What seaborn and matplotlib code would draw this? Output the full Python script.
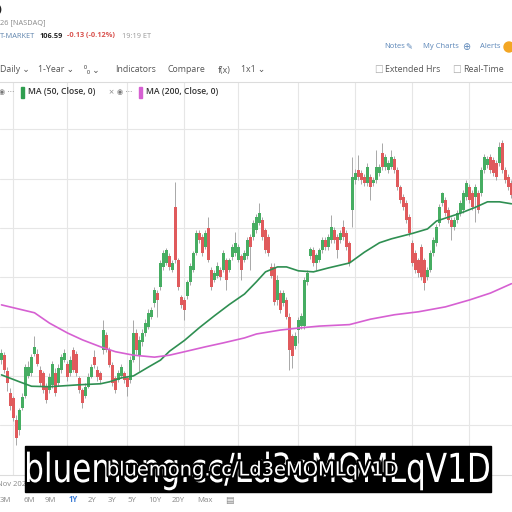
import numpy as np
import pandas as pd
import matplotlib
matplotlib.use("Agg")
import matplotlib.pyplot as plt
import matplotlib.patheffects as pe
from matplotlib.patches import Rectangle, PathPatch
from matplotlib.textpath import TextPath
from matplotlib.transforms import Affine2D
from matplotlib.font_manager import FontProperties
import seaborn as sns

# ---- daily candles ----
opens = [73.2, 74.2, 71.0, 66.5, 65.5, 61.0, 59.0, 63.5, 66.0, 70.0,
         70.5, 74.5, 74.5, 71.2, 70.5, 68.0, 67.1, 68.2, 70.5, 68.5,
         71.2, 73.2, 72.5, 70.5, 75.3, 74.5, 69.5, 67.1, 66.0, 67.8,
         69.8, 73.8, 71.2, 70.5, 75.3, 78.3, 75.3, 72.2, 69.5, 69.2,
         70.0, 70.5, 69.5, 69.2, 73.2, 78.7, 74.0, 76.8, 78.7, 80.0,
         82.0, 84.8, 86.8, 88.0, 92.1, 92.9, 94.3, 91.5, 104.3, 93.5,
         86.0, 85.4, 86.2, 89.1, 91.5, 94.9, 99.0, 98.2, 96.2, 100.0,
         91.5, 89.5, 90.3, 91.5, 91.5, 93.5, 91.5, 94.1, 94.9, 93.5,
         94.3, 93.5, 94.3, 98.2, 98.2, 99.6, 101.0, 101.6, 99.6, 98.2,
         92.1, 92.1, 85.4, 86.8, 84.8, 85.4, 82.0, 78.0, 76.1, 79.3,
         80.1, 80.1, 89.1, 94.3, 95.5, 92.9, 93.5, 95.5, 97.6, 96.2,
         97.6, 99.6, 98.2, 97.6, 100.2, 99.0, 96.9, 103.7, 109.7, 111.8,
         111.2, 110.4, 109.1, 110.4, 109.1, 109.7, 111.2, 115.2, 112.4, 111.8,
         112.4, 114.0, 111.8, 108.3, 106.3, 105.1, 102.2, 97.0, 94.9, 93.5,
         96.2, 93.5, 90.1, 91.5, 94.9, 97.0, 101.0, 105.1, 105.7, 103.7,
         101.6, 100.2, 101.6, 103.0, 103.7, 106.3, 108.3, 107.1, 106.3, 107.1,
         107.1, 111.8, 112.8, 114.4, 113.8, 113.2, 113.2, 117.2, 111.8, 110.4,
         109.1]
highs = [75.5, 74.8, 71.8, 67.5, 66.0, 62.0, 63.5, 66.5, 72.5, 73.0,
         74.5, 78.0, 75.5, 72.0, 71.0, 68.5, 70.5, 73.0, 71.5, 72.5,
         74.5, 75.5, 73.0, 74.0, 75.8, 75.0, 70.0, 67.5, 68.5, 70.5,
         72.5, 75.3, 72.0, 71.0, 81.3, 79.0, 75.8, 72.8, 70.0, 71.2,
         72.5, 71.0, 70.0, 74.0, 81.3, 79.5, 78.0, 79.5, 81.5, 83.5,
         84.0, 88.0, 87.5, 93.5, 95.5, 96.0, 95.0, 93.5, 109.3, 94.0,
         86.5, 86.0, 89.5, 92.8, 95.3, 99.6, 99.6, 98.8, 99.5, 102.2,
         92.0, 91.5, 93.0, 92.0, 95.5, 94.0, 94.0, 96.8, 99.2, 96.8,
         94.8, 95.5, 98.2, 98.8, 101.6, 102.8, 105.1, 102.2, 100.0, 98.8,
         92.8, 92.8, 90.5, 87.4, 87.4, 86.0, 82.8, 78.5, 78.8, 82.0,
         82.8, 90.1, 91.5, 96.2, 96.2, 95.0, 96.0, 98.2, 98.2, 98.8,
         102.6, 100.2, 98.8, 99.6, 101.6, 99.6, 97.4, 114.4, 112.0, 114.8,
         111.8, 111.0, 113.2, 111.0, 110.4, 115.8, 113.0, 117.2, 115.0, 113.8,
         115.8, 114.6, 112.4, 108.8, 106.8, 105.7, 102.8, 97.6, 95.5, 94.0,
         96.8, 94.0, 92.0, 95.5, 98.2, 100.8, 104.9, 107.3, 106.3, 104.3,
         102.2, 102.2, 103.6, 105.7, 107.7, 109.7, 109.0, 107.7, 108.9, 107.7,
         112.4, 115.0, 114.6, 115.0, 114.4, 113.8, 117.4, 117.8, 112.4, 111.0,
         109.7]
lows = [72.5, 70.5, 67.0, 63.0, 60.8, 56.0, 58.0, 63.0, 65.5, 69.5,
        70.0, 74.0, 72.0, 68.0, 66.5, 64.5, 66.5, 67.5, 66.0, 68.0,
        70.5, 72.8, 69.0, 70.0, 70.8, 70.0, 66.5, 63.5, 65.5, 67.5,
        69.5, 71.5, 69.0, 68.5, 74.5, 74.8, 71.8, 68.0, 66.5, 68.8,
        69.5, 68.5, 66.0, 68.5, 72.8, 74.5, 71.0, 76.0, 78.0, 79.5,
        81.5, 84.0, 82.0, 87.5, 91.5, 92.5, 91.5, 91.0, 92.8, 87.5,
        83.8, 81.3, 85.5, 88.5, 91.0, 94.5, 97.0, 94.3, 95.8, 93.0,
        87.4, 89.0, 89.8, 89.5, 91.0, 87.4, 91.0, 93.6, 94.3, 93.0,
        89.5, 93.0, 93.8, 91.5, 97.6, 99.0, 100.5, 97.6, 95.0, 94.3,
        89.8, 84.4, 84.4, 82.8, 84.2, 81.5, 71.2, 71.5, 75.5, 76.6,
        79.5, 79.5, 88.5, 93.8, 92.3, 91.5, 93.0, 95.0, 95.6, 95.6,
        97.0, 97.0, 93.9, 97.0, 97.6, 95.6, 92.3, 100.2, 109.0, 109.8,
        109.0, 108.5, 108.5, 105.7, 108.5, 109.2, 110.6, 111.8, 111.8, 111.2,
        112.0, 111.2, 107.7, 105.0, 103.7, 101.0, 98.4, 92.3, 90.8, 90.1,
        89.5, 87.4, 89.5, 91.0, 94.3, 96.4, 100.4, 104.5, 102.4, 101.0,
        97.6, 99.6, 101.0, 102.4, 103.1, 105.7, 105.1, 103.7, 101.2, 103.1,
        106.5, 111.2, 112.2, 111.2, 110.6, 109.8, 112.6, 111.2, 109.1, 107.7,
        106.0]
closes = [74.6, 71.2, 68.5, 63.8, 61.5, 57.5, 63.0, 65.8, 71.8, 71.8,
          73.8, 75.8, 72.5, 68.5, 67.1, 65.1, 69.8, 72.5, 66.5, 71.5,
          73.8, 74.6, 69.8, 73.2, 71.2, 70.5, 67.1, 64.5, 67.8, 69.8,
          71.8, 72.2, 69.8, 69.2, 79.3, 75.3, 72.2, 68.5, 67.1, 70.5,
          71.8, 69.2, 67.8, 73.2, 78.7, 75.3, 77.3, 78.7, 80.8, 82.8,
          83.4, 87.4, 85.4, 92.9, 94.9, 95.5, 92.1, 92.9, 93.5, 88.0,
          84.4, 83.4, 89.0, 92.3, 94.9, 99.0, 97.6, 94.9, 99.0, 93.5,
          88.0, 90.8, 92.3, 90.1, 94.9, 89.5, 93.5, 96.2, 96.9, 96.2,
          91.5, 94.9, 97.6, 96.2, 101.0, 102.2, 103.0, 98.2, 95.5, 94.9,
          90.3, 85.0, 89.5, 83.4, 86.8, 82.0, 75.3, 74.0, 78.1, 81.3,
          82.2, 89.5, 90.8, 95.7, 92.9, 94.5, 95.5, 97.6, 96.2, 98.2,
          100.2, 97.6, 95.5, 99.0, 98.2, 96.2, 92.9, 110.4, 111.2, 110.4,
          109.7, 109.1, 112.4, 108.3, 109.7, 112.4, 112.4, 112.4, 114.4, 113.2,
          114.4, 111.8, 108.3, 105.7, 104.3, 101.6, 99.0, 92.9, 91.5, 90.9,
          90.1, 88.8, 91.5, 94.9, 97.6, 100.2, 104.3, 107.1, 103.0, 101.6,
          100.2, 101.6, 103.0, 105.1, 107.1, 109.1, 105.7, 104.3, 108.3, 103.7,
          111.8, 114.4, 114.0, 111.8, 111.2, 110.4, 116.4, 111.8, 109.7, 108.3,
          106.6]

# moving averages (sampled along the curves)
ma50_days = [0, 6, 10, 16, 26, 33, 36, 40, 44, 49, 53, 56, 61, 66, 71, 76, 81,
             85, 88, 92, 95, 99, 104, 109, 116, 121, 126, 130, 137, 142, 145,
             148, 151, 153, 158, 162, 166, 170]
ma50_vals = [70.2, 68.8, 67.9, 67.8, 68.2, 68.4, 68.8, 69.6, 70.0, 71.8, 73.2,
             75.0, 77.2, 79.8, 82.2, 84.5, 86.6, 89.1, 91.1, 92.1, 92.1, 91.3,
             91.1, 91.9, 92.9, 95.1, 97.0, 97.8, 98.9, 99.8, 101.4, 102.0,
             102.6, 103.0, 104.2, 105.3, 105.3, 104.9]
ma200_days = [0, 11, 16, 22, 27, 33, 38, 44, 51, 56, 61, 68, 74, 81, 85, 93,
              99, 106, 116, 123, 131, 139, 148, 156, 163, 170]
ma200_vals = [84.4, 82.8, 80.7, 78.7, 77.3, 75.9, 74.9, 74.2, 73.8, 74.2, 74.9,
              75.9, 76.7, 77.7, 78.5, 79.3, 79.7, 80.1, 80.4, 81.5, 82.4, 83.0,
              84.0, 85.4, 86.8, 88.7]

month_days = [4, 22, 42, 61, 79, 99, 118, 137, 156]
month_labels = ["Nov 2024", "", "", "", "", "", "", "", ""]
price_grid = [60, 70, 80, 90, 100, 110, 120]

up_col = "#46ad62"
down_col = "#e05a5c"
wick_col = "#9a9a9a"

sns.set_theme(style="white")
plt.rcParams["font.family"] = ["Open Sans", "DejaVu Sans"]

df = pd.DataFrame({"o": opens, "h": highs, "l": lows, "c": closes})
df["day"] = np.arange(len(df))
df["up"] = df["c"] >= df["o"]

fig = plt.figure(figsize=(5.12, 5.12), dpi=100)
fig.patch.set_facecolor("white")
ax = fig.add_axes([0, 37 / 512, 1, 393 / 512])

# candles
ax.vlines(df["day"], df["l"], df["h"], color=wick_col, lw=0.6, zorder=2)
cols = np.where(df["up"], up_col, down_col)
ax.bar(df["day"], (df["c"] - df["o"]).abs().clip(lower=0.35),
       bottom=df[["o", "c"]].min(axis=1), width=0.68, color=cols,
       linewidth=0, zorder=3)

ma50 = pd.DataFrame({"day": ma50_days, "v": ma50_vals})
ma200 = pd.DataFrame({"day": ma200_days, "v": ma200_vals})
sns.lineplot(data=ma50, x="day", y="v", ax=ax, color="#2f8f52", lw=1.2, zorder=4)
sns.lineplot(data=ma200, x="day", y="v", ax=ax, color="#d660d2", lw=1.2, zorder=4)

ax.set_xlim(-0.5, 170.17)
ax.set_ylim(49.9, 129.6)
ax.set_xticks(month_days)
ax.set_xticklabels(month_labels, fontsize=5.5, color="#888888")
ax.set_yticks(price_grid)
ax.set_yticklabels([])
ax.tick_params(axis="x", length=0, pad=4)
ax.tick_params(axis="y", length=0)
ax.set_xlabel("")
ax.set_ylabel("")
ax.grid(True, color="#e6e6e6", lw=0.8)
ax.set_axisbelow(True)
for s in ["left", "right"]:
    ax.spines[s].set_visible(False)
for s in ["top", "bottom"]:
    ax.spines[s].set_color("#dcdcdc")
    ax.spines[s].set_linewidth(0.8)


def px(x, y):
    return x / 512, 1 - y / 512


# header
fig.text(*px(-2, 10), ")", fontsize=8, weight="bold", color="#222", va="center")
fig.text(*px(0, 23), "26 [NASDAQ]", fontsize=5.3, color="#888", va="center")
fig.text(*px(0, 36), "T-MARKET", fontsize=5.3, color="#5f84ad", va="center")
fig.text(*px(40, 36), "106.59", fontsize=5.3, color="#222", weight="bold", va="center")
fig.text(*px(67, 36), "-0.13 (-0.12%)", fontsize=5.3, color="#d9534f", weight="bold", va="center")
fig.text(*px(122, 36), "19:19 ET", fontsize=5.3, color="#999", va="center")

link = "#5b86b8"
fig.text(*px(384, 47), "Notes", fontsize=5.5, color=link, va="center")
fig.text(*px(405, 47), "\u270e", fontsize=6, color=link, va="center", family="DejaVu Sans")
fig.text(*px(423, 47), "My Charts", fontsize=5.5, color=link, va="center")
fig.text(*px(462, 47), "\u2295", fontsize=7, color=link, va="center", family="DejaVu Sans")
fig.text(*px(480, 47), "Alerts", fontsize=5.5, color=link, va="center")
fig.add_artist(plt.Circle(px(509, 47), 5 / 512, color="#f3a623", transform=fig.transFigure))

# toolbar
tb = "#555555"
for x, t in [(0, "Daily \u2304"), (38, "1-Year \u2304"), (84, "\u2070\u2080 \u2304"),
             (115, "Indicators"), (168, "Compare"), (218, "f(x)"), (241, "1x1 \u2304")]:
    fig.text(*px(x, 70), t, fontsize=6.3, color=tb, va="center",
             family=["Open Sans", "DejaVu Sans"])
fig.text(*px(374, 70), "\u2610", fontsize=7, color="#aaa", va="center", family="DejaVu Sans")
fig.text(*px(385, 70), "Extended Hrs", fontsize=6.3, color=tb, va="center")
fig.text(*px(452, 70), "\u2610", fontsize=7, color="#aaa", va="center", family="DejaVu Sans")
fig.text(*px(463, 70), "Real-Time", fontsize=6.3, color=tb, va="center")

# indicator legend
fig.text(*px(-1, 92), "\u25c9 \u22ef", fontsize=5, color="#777", va="center", family="DejaVu Sans")
fig.add_artist(Rectangle(px(21, 98), 3 / 512, 11 / 512, color="#2f9e4f", transform=fig.transFigure))
fig.text(*px(28, 92), "MA (50, Close, 0)", fontsize=6.2, color="#333", weight="semibold", va="center")
fig.text(*px(108, 93), "\u00d7", fontsize=6.5, color="#888", va="center")
fig.text(*px(117, 92), "\u25c9 \u22ef", fontsize=5, color="#777", va="center", family="DejaVu Sans")
fig.add_artist(Rectangle(px(139, 98), 3 / 512, 11 / 512, color="#d660d2", transform=fig.transFigure))
fig.text(*px(146, 92), "MA (200, Close, 0)", fontsize=6.2, color="#333", weight="semibold", va="center")

# period buttons
for x, t in [(0, "3M"), (23, "6M"), (45, "9M"), (69, "1Y"), (88, "2Y"), (108, "3Y"),
             (127, "5Y"), (148, "10Y"), (172, "20Y"), (197, "Max")]:
    on = t == "1Y"
    fig.text(*px(x, 500), t, fontsize=5.6, va="center",
             color="#3a7bd5" if on else "#888", weight="bold" if on else "normal")
fig.text(*px(225, 500), "\u25a4", fontsize=6.5, color="#888", va="center", family="DejaVu Sans")

# watermark: black block, big condensed white text, small outlined text on top
wm = "bluemong.cc/Ld3eMOMLqV1D"
fig.add_artist(Rectangle(px(25, 492), 466 / 512, 46 / 512, color="black", transform=fig.transFigure))
tp = TextPath((0, 0), wm, size=1, prop=FontProperties(family="DejaVu Sans"))
ext = tp.get_extents()
sx = 462 / ext.width
big = Affine2D().translate(-ext.x0, 0).scale(sx, 40).translate(27, 512 - 482)
fig.add_artist(PathPatch(tp, facecolor="white", edgecolor="none", transform=big))
fig.text(*px(253, 470), wm, fontsize=14, color="white",
         ha="center", va="center", family="DejaVu Sans",
         path_effects=[pe.withStroke(linewidth=3, foreground="black")])

fig.savefig("out.png", dpi=100)
